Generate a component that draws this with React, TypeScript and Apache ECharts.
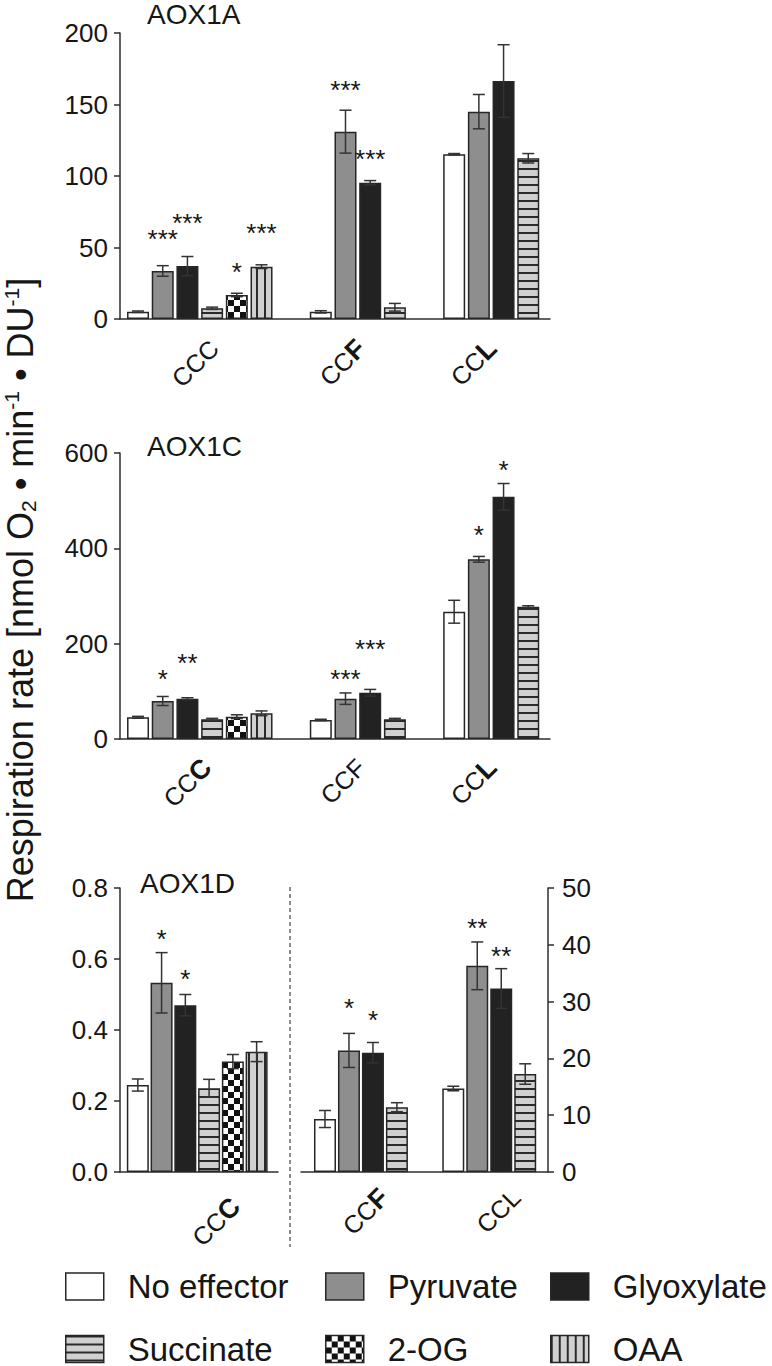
import React, { useEffect, useRef } from "react";
import * as echarts from "echarts";

// ---------------- DATA ----------------
const EFFECTORS = ["No effector", "Pyruvate", "Glyoxylate", "Succinate", "2-OG", "OAA"];

// AOX1A
const AOX1A_GROUPS = ["CCC", "CCF", "CCL"];
const AOX1A_BOLD_LAST = [false, true, true];
const AOX1A_TICKS = [0, 50, 100, 150, 200];
const AOX1A_MEAN = [
  [5.1, 33.6, 37.0, 7.5, 16.8, 36.6],
  [5.0, 131, 95.3, 8.2],
  [115.2, 145, 166.4, 112.4],
];
const AOX1A_SEM = [
  [0.5, 3.7, 6.7, 0.8, 1.2, 1.3],
  [0.8, 15, 1.5, 2.7],
  [0.5, 12, 25.4, 3.3],
];
const AOX1A_SIG = [
  ["", "***", "***", "", "*", "***"],
  ["", "***", "***", ""],
  ["", "", "", ""],
];
const AOX1A_SIG_AT = [
  [0, 60, 71, 0, 37, 64],
  [0, 164, 116, 0],
  [0, 0, 0, 0],
];

// AOX1C
const AOX1C_GROUPS = ["CCC", "CCF", "CCL"];
const AOX1C_BOLD_LAST = [true, false, true];
const AOX1C_TICKS = [0, 200, 400, 600];
const AOX1C_MEAN = [
  [45.5, 79.7, 84.6, 41.3, 46.8, 53.9],
  [39.9, 84.6, 97, 41.3],
  [267, 377, 508, 277.6],
];
const AOX1C_SEM = [
  [2, 9.5, 2, 2, 4, 5],
  [1.5, 12, 7, 2],
  [24, 6, 28, 2],
];
const AOX1C_SIG = [
  ["", "*", "**", "", "", ""],
  ["", "***", "***", ""],
  ["", "*", "*", ""],
];
const AOX1C_SIG_AT = [
  [0, 139, 172, 0, 0, 0],
  [0, 139, 201, 0],
  [0, 440, 577, 0],
];

// AOX1D (CCC on left axis, CCF / CCL on right axis)
const AOX1D_GROUPS = ["CCC", "CCF", "CCL"];
const AOX1D_BOLD_LAST = [true, true, false];
const AOX1D_LEFT_TICKS = [0, 0.2, 0.4, 0.6, 0.8];
const AOX1D_RIGHT_TICKS = [0, 10, 20, 30, 40, 50];
const AOX1D_MEAN = [
  [0.245, 0.533, 0.47, 0.236, 0.311, 0.339],
  [9.33, 21.4, 21.0, 11.4],
  [14.7, 36.3, 32.3, 17.25],
];
const AOX1D_SEM = [
  [0.017, 0.085, 0.03, 0.025, 0.02, 0.028],
  [1.5, 3, 1.8, 0.8],
  [0.4, 4.2, 3.5, 1.8],
];
const AOX1D_SIG = [
  ["", "*", "*", "", "", ""],
  ["", "*", "*", ""],
  ["", "**", "**", ""],
];
const AOX1D_SIG_AT = [
  [0, 0.674, 0.561, 0, 0, 0],
  [0, 30.0, 27.9, 0],
  [0, 44.1, 39.1, 0],
];

// ---------------- STYLE / LAYOUT ----------------
const FONT = "'Liberation Sans', Arial, Helvetica, sans-serif";
const INK = "#161616";
const AXIS = "#2e2e2e";

type Spec = {
  groups: number[];
  left: number; top: number; width: number; height: number;
  xMin: number; xMax: number; gap: number;
  labelAt: number[]; labelMargin: number;
  ticks: number[]; yPos: "left" | "right"; yLabelMargin: number; decimals: number;
};

type PanelData = {
  names: string[]; bold: boolean[];
  mean: number[][]; sem: number[][]; sig: string[][]; sigAt: number[][];
};

function makeCanvas(w: number, h: number, draw: (c: CanvasRenderingContext2D) => void) {
  const c = document.createElement("canvas");
  c.width = w; c.height = h;
  const ctx = c.getContext("2d")!;
  draw(ctx);
  return c;
}

export default function App() {
  const ref = useRef<HTMLDivElement>(null);

  useEffect(() => {
    const chart = echarts.init(ref.current!, null, { renderer: "svg" });

    const hLines = makeCanvas(8, 8, (ctx) => {
      ctx.fillStyle = "#d0d0d0"; ctx.fillRect(0, 0, 8, 8);
      ctx.fillStyle = "#2a2a2a"; ctx.fillRect(0, 0, 8, 2);
    });
    const vLines = makeCanvas(8, 8, (ctx) => {
      ctx.fillStyle = "#d0d0d0"; ctx.fillRect(0, 0, 8, 8);
      ctx.fillStyle = "#2a2a2a"; ctx.fillRect(0, 0, 2, 8);
    });
    const checker = makeCanvas(12, 12, (ctx) => {
      ctx.fillStyle = "#ffffff"; ctx.fillRect(0, 0, 12, 12);
      ctx.fillStyle = "#111111"; ctx.fillRect(0, 0, 6, 6); ctx.fillRect(6, 6, 6, 6);
    });
    const FILLS: any[] = [
      "#ffffff",
      "#8e8e8e",
      "#222222",
      { image: hLines, repeat: "repeat", imageWidth: 8, imageHeight: 8 },
      { image: checker, repeat: "repeat", imageWidth: 12, imageHeight: 12 },
      { image: vLines, repeat: "repeat", imageWidth: 8, imageHeight: 8 },
    ];

    const grids: any[] = [];
    const xAxes: any[] = [];
    const yAxes: any[] = [];
    const series: any[] = [];

    function addPanel(spec: Spec, d: PanelData) {
      const gi = grids.length;
      grids.push({
        left: spec.left, top: spec.top, width: spec.width, height: spec.height,
        containLabel: false, outerBoundsMode: "none",
      });
      xAxes.push({
        type: "value", gridIndex: gi, min: spec.xMin, max: spec.xMax,
        axisLine: { show: true, onZero: false, lineStyle: { color: AXIS, width: 1.5 } },
        axisTick: { show: false },
        splitLine: { show: false },
        axisLabel: {
          show: true,
          customValues: spec.labelAt,
          rotate: 45,
          margin: spec.labelMargin,
          fontFamily: FONT,
          fontSize: 25,
          color: INK,
          formatter: (v: number) => {
            const i = spec.labelAt.findIndex((a) => Math.abs(a - v) < 1e-6);
            if (i < 0) return "";
            const g = spec.groups[i];
            const name = d.names[g];
            if (d.bold[g]) return `{n|${name.slice(0, -1)}}{b|${name.slice(-1)}}`;
            return `{n|${name}}`;
          },
          rich: {
            n: { fontFamily: FONT, fontSize: 25, color: INK },
            b: { fontFamily: FONT, fontSize: 27, fontWeight: "bold", color: INK },
          },
        },
      });
      const t = spec.ticks;
      yAxes.push({
        type: "value", gridIndex: gi, position: spec.yPos,
        min: t[0], max: t[t.length - 1], interval: t[1] - t[0],
        axisLine: { show: true, onZero: false, lineStyle: { color: AXIS, width: 1.5 } },
        axisTick: { show: true, length: 6, inside: false, lineStyle: { color: AXIS, width: 1.5 } },
        splitLine: { show: false },
        axisLabel: {
          fontFamily: FONT, fontSize: 26, color: INK, margin: spec.yLabelMargin,
          formatter: (v: number) => v.toFixed(spec.decimals),
        },
      });

      // bar positions in slot units
      const rows: { x: number; e: number; mean: number; sem: number; sig: string; sigAt: number }[] = [];
      let start = 0;
      spec.groups.forEach((g) => {
        d.mean[g].forEach((m, e) => {
          rows.push({ x: start + e, e, mean: m, sem: d.sem[g][e], sig: d.sig[g][e], sigAt: d.sigAt[g][e] });
        });
        start += d.mean[g].length + spec.gap;
      });

      EFFECTORS.forEach((name, e) => {
        const pts = rows.filter((r) => r.e === e).map((r) => [r.x, r.mean]);
        if (!pts.length) return;
        series.push({
          type: "bar", name, xAxisIndex: gi, yAxisIndex: gi,
          data: pts, barWidth: 22, barGap: "-100%",
          itemStyle: { color: FILLS[e], borderColor: "#262626", borderWidth: 1.5 },
          z: 2,
        });
      });

      series.push({
        type: "custom", xAxisIndex: gi, yAxisIndex: gi, z: 5,
        data: rows.map((r) => [r.x, r.mean]),
        renderItem: (params: any, api: any) => {
          const r = rows[params.dataIndex];
          const top = api.coord([r.x, r.mean + r.sem]);
          const bot = api.coord([r.x, Math.max(0, r.mean - r.sem)]);
          const cx = top[0];
          const capW = 6;
          const st = { stroke: "#333333", lineWidth: 1.5 };
          const children: any[] = [
            { type: "line", shape: { x1: cx, y1: top[1], x2: cx, y2: bot[1] }, style: st },
            { type: "line", shape: { x1: cx - capW, y1: top[1], x2: cx + capW, y2: top[1] }, style: st },
            { type: "line", shape: { x1: cx - capW, y1: bot[1], x2: cx + capW, y2: bot[1] }, style: st },
          ];
          if (r.sig) {
            const p = api.coord([r.x, r.sigAt]);
            children.push({
              type: "text", x: p[0], y: p[1] + 6,
              style: { text: r.sig, fontSize: 26, fontFamily: FONT, fill: INK, align: "center", verticalAlign: "middle" },
            });
          }
          return { type: "group", children };
        },
      });
    }

    const aData: PanelData = { names: AOX1A_GROUPS, bold: AOX1A_BOLD_LAST, mean: AOX1A_MEAN, sem: AOX1A_SEM, sig: AOX1A_SIG, sigAt: AOX1A_SIG_AT };
    const cData: PanelData = { names: AOX1C_GROUPS, bold: AOX1C_BOLD_LAST, mean: AOX1C_MEAN, sem: AOX1C_SEM, sig: AOX1C_SIG, sigAt: AOX1C_SIG_AT };
    const dData: PanelData = { names: AOX1D_GROUPS, bold: AOX1D_BOLD_LAST, mean: AOX1D_MEAN, sem: AOX1D_SEM, sig: AOX1D_SIG, sigAt: AOX1D_SIG_AT };

    addPanel({ groups: [0, 1, 2], left: 120, top: 33, width: 430, height: 286, xMin: -0.73, xMax: 16.68, gap: 1.4,
      labelAt: [3.08, 9.03, 14.33], labelMargin: 25, ticks: AOX1A_TICKS, yPos: "left", yLabelMargin: 12, decimals: 0 }, aData);
    addPanel({ groups: [0, 1, 2], left: 120, top: 453, width: 430, height: 286, xMin: -0.73, xMax: 16.68, gap: 1.4,
      labelAt: [2.79, 9.03, 14.33], labelMargin: 24, ticks: AOX1C_TICKS, yPos: "left", yLabelMargin: 12, decimals: 0 }, cData);
    addPanel({ groups: [0], left: 120, top: 888, width: 158, height: 284, xMin: -0.75, xMax: 5.9, gap: 1.35,
      labelAt: [4.12], labelMargin: 30, ticks: AOX1D_LEFT_TICKS, yPos: "left", yLabelMargin: 12, decimals: 1 }, dData);
    addPanel({ groups: [1, 2], left: 301, top: 888, width: 247, height: 284, xMin: -1.0, xMax: 9.3, gap: 1.35,
      labelAt: [2.46, 7.96], labelMargin: 21, ticks: AOX1D_RIGHT_TICKS, yPos: "right", yLabelMargin: 14, decimals: 0 }, dData);

    const LEGEND_COLUMNS = [[0, 3], [1, 4], [2, 5]];
    const LEGEND_LEFT = [65, 325, 550];
    const legend = LEGEND_COLUMNS.map((col, i) => ({
      orient: "vertical", left: LEGEND_LEFT[i], top: 1269.5, padding: 0,
      itemGap: 28.5, itemWidth: 38, itemHeight: 27, icon: "rect", selectedMode: false,
      data: col.map((j) => EFFECTORS[j]),
      itemStyle: { borderColor: "#262626", borderWidth: 1.5 },
      textStyle: { fontSize: 33, lineHeight: 34, color: INK, fontFamily: FONT, padding: [0, 0, 0, 19] },
    }));

    const graphic: any[] = [
      {
        type: "text", x: 20, y: 590, rotation: Math.PI / 2,
        style: {
          text: "{m|Respiration rate [nmol O}{sub|2}{m| • min}{sup|-1}{m| • DU}{sup|-1}{m|]}",
          align: "center", verticalAlign: "middle", fill: INK, fontFamily: FONT, fontSize: 36,
          rich: {
            m: { fontSize: 36, lineHeight: 38, fontFamily: FONT, fill: INK },
            sub: { fontSize: 21, lineHeight: 22, fontFamily: FONT, fill: INK, verticalAlign: "bottom" },
            sup: { fontSize: 21, lineHeight: 22, fontFamily: FONT, fill: INK, verticalAlign: "top" },
          },
        },
      },
      { type: "text", x: 147, y: 14, style: { text: "AOX1A", fontSize: 28, fontFamily: FONT, fill: INK, verticalAlign: "middle" } },
      { type: "text", x: 147, y: 446, style: { text: "AOX1C", fontSize: 28, fontFamily: FONT, fill: INK, verticalAlign: "middle" } },
      { type: "text", x: 140, y: 883, style: { text: "AOX1D", fontSize: 28, fontFamily: FONT, fill: INK, verticalAlign: "middle" } },
      { type: "line", shape: { x1: 290, y1: 887, x2: 290, y2: 1247 }, style: { stroke: "#444", lineWidth: 1.2, lineDash: [4, 3] } },
    ];

    chart.setOption({
      animation: false,
      backgroundColor: "#ffffff",
      grid: grids,
      xAxis: xAxes,
      yAxis: yAxes,
      series,
      legend,
      graphic,
    });

    return () => chart.dispose();
  }, []);

  return (
    <div
      ref={ref}
      style={{ position: "absolute", left: 0, top: 0, width: 772, height: 1366, background: "#fff" }}
    />
  );
}
